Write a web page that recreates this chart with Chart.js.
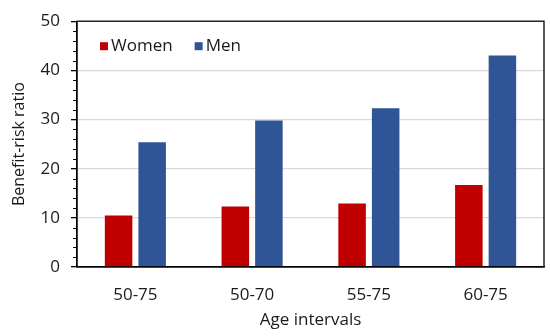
<!DOCTYPE html>
<html>
<head>
<meta charset="utf-8">
<script src="https://cdn.jsdelivr.net/npm/chart.js@4.4.1/dist/chart.umd.min.js"></script>
<style>
  html, body { margin: 0; padding: 0; background: #fff; }
  #wrap { width: 550px; height: 336px; position: relative; }
</style>
</head>
<body>
<div id="wrap"><canvas id="c" width="550" height="336"></canvas></div>
<script>
const categories = ['50-75', '50-70', '55-75', '60-75'];
const women = [10.5, 12.3, 12.9, 16.7];
const men = [25.4, 29.8, 32.3, 43.0];
const yTicks = [0, 10, 20, 30, 40, 50];

const FONT = '"Open Sans", sans-serif';
const TEXT = '#1a1a1a';

const extras = {
  id: 'extras',
  afterDatasetsDraw(chart) {
    const y = chart.scales.y;
    const ctx = chart.ctx;
    const a = chart.chartArea;
    ctx.save();
    // minor ticks
    ctx.strokeStyle = '#000';
    ctx.lineWidth = 1;
    for (let v = 0; v <= 50; v += 2) {
      if (v % 10 === 0) continue;
      const py = Math.round(y.getPixelForValue(v)) + 0.5;
      ctx.beginPath();
      ctx.moveTo(a.left - 4, py);
      ctx.lineTo(a.left, py);
      ctx.stroke();
    }
    // plot border box
    ctx.lineWidth = 1.3;
    ctx.strokeRect(a.left, a.top, a.right - a.left, a.bottom - a.top);
    // legend inside plot
    ctx.font = '17px ' + FONT;
    ctx.textBaseline = 'middle';
    ctx.textAlign = 'left';
    let x = a.left + 23;
    const ty = a.top + 25;
    chart.data.datasets.forEach(ds => {
      ctx.fillStyle = ds.backgroundColor;
      ctx.fillRect(x, a.top + 21, 8, 8);
      ctx.fillStyle = TEXT;
      ctx.fillText(ds.label, x + 11, ty);
      x += 11 + ctx.measureText(ds.label).width + 22;
    });
    ctx.restore();
  }
};

new Chart(document.getElementById('c'), {
  type: 'bar',
  data: {
    labels: categories,
    datasets: [
      { label: 'Women', data: women, backgroundColor: '#C00000', barPercentage: 0.82, categoryPercentage: 0.575 },
      { label: 'Men', data: men, backgroundColor: '#2F5597', barPercentage: 0.82, categoryPercentage: 0.575 }
    ]
  },
  options: {
    responsive: false,
    animation: false,
    layout: { padding: { top: 17, right: 6, left: 0, bottom: 0 } },
    plugins: {
      tooltip: { enabled: false },
      legend: { display: false }
    },
    scales: {
      x: {
        afterFit(s) { s.height = 69; },
        grid: { display: false, drawTicks: false },
        border: { display: true, color: '#000', width: 1.3 },
        ticks: { color: TEXT, font: { family: FONT, size: 17 }, padding: 18 },
        title: { display: true, text: 'Age intervals', color: TEXT, font: { family: FONT, size: 17 }, padding: { top: 0, bottom: 6 } }
      },
      y: {
        min: 0, max: 50,
        afterFit(s) { s.width = 77; },
        afterBuildTicks(s) { s.ticks = yTicks.map(v => ({ value: v })); },
        grid: {
          color: ctx => (ctx.tick && ctx.tick.value > 0 && ctx.tick.value < 50) ? '#d9d9d9' : 'rgba(0,0,0,0)',
          tickColor: '#000',
          tickLength: 6,
          lineWidth: 1.3
        },
        border: { display: true, color: '#000', width: 1.3 },
        ticks: { color: TEXT, font: { family: FONT, size: 17 }, padding: 11 },
        title: { display: true, text: 'Benefit-risk ratio', color: TEXT, font: { family: FONT, size: 16 }, padding: { top: 10, bottom: 0 } }
      }
    }
  },
  plugins: [extras]
});
</script>
</body>
</html>
